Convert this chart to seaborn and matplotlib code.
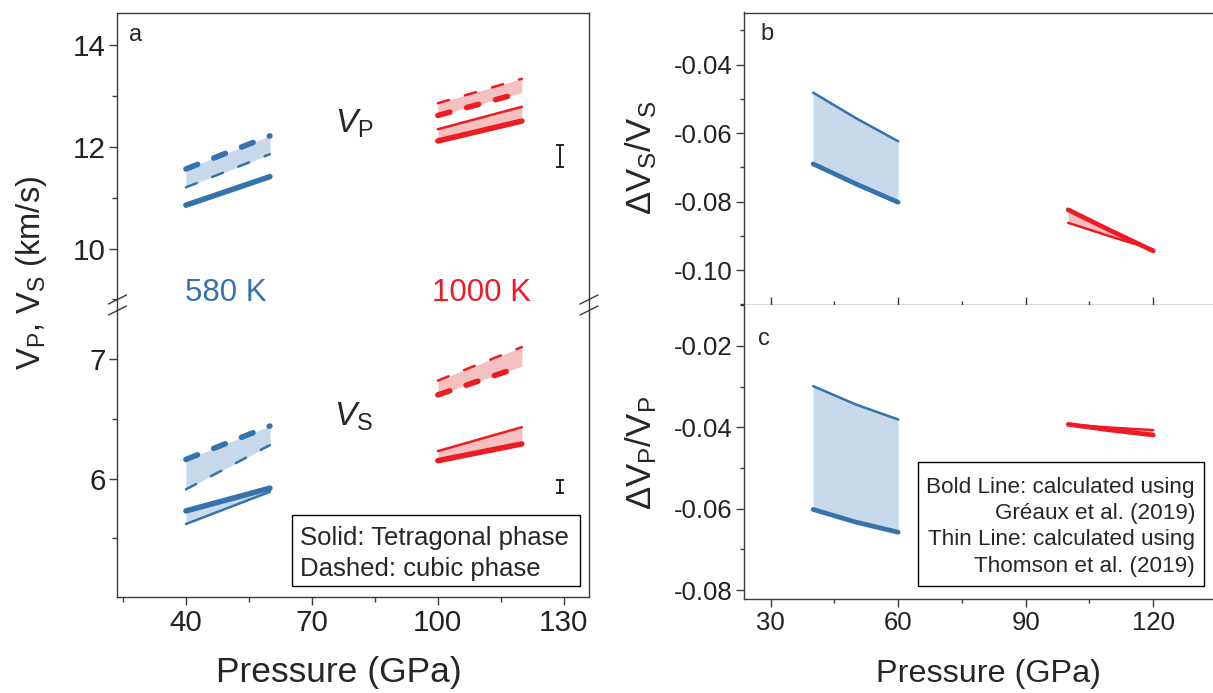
import numpy as np
import pandas as pd
import matplotlib
matplotlib.use("Agg")
import matplotlib.pyplot as plt
import seaborn as sns
from matplotlib.lines import Line2D
from matplotlib.patches import Rectangle
from matplotlib.ticker import FixedLocator, FormatStrFormatter

# ---------------- data ----------------
P_580 = [40, 60]
P_1000 = [100, 120]
VP_580_cub_G = [11.56, 12.21]
VP_580_cub_T = [11.20, 11.85]
VP_580_tet_G = [10.85, 11.41]
VP_1000_cub_G = [12.61, 13.06]
VP_1000_cub_T = [12.85, 13.33]
VP_1000_tet_G = [12.11, 12.50]
VP_1000_tet_T = [12.34, 12.78]

VS_580_cub_G = [6.16, 6.44]
VS_580_cub_T = [5.91, 6.28]
VS_580_tet_G = [5.73, 5.92]
VS_580_tet_T = [5.62, 5.89]
VS_1000_cub_G = [6.70, 6.94]
VS_1000_cub_T = [6.82, 7.10]
VS_1000_tet_G = [6.15, 6.29]
VS_1000_tet_T = [6.23, 6.43]

ERR_P = [129]
VP_ERR_MID = [11.81]
VP_ERR = [0.22]
VS_ERR_MID = [5.935]
VS_ERR = [0.055]

P_580_c = [40, 50, 60]
P_1000_c = [100, 110, 120]
DVS_580_G = [-0.0690, -0.0748, -0.0802]
DVS_580_T = [-0.0482, -0.0556, -0.0624]
DVS_1000_G = [-0.0824, -0.0885, -0.0944]
DVS_1000_T = [-0.0862, -0.0902, -0.0940]
DVP_580_G = [-0.0602, -0.0633, -0.0658]
DVP_580_T = [-0.0299, -0.0344, -0.0381]
DVP_1000_G = [-0.0393, -0.0407, -0.0419]
DVP_1000_T = [-0.0393, -0.0401, -0.0407]

# ---------------- style ----------------
sns.set_theme(style="ticks")
plt.rcParams.update({
    "font.family": ["Liberation Sans", "DejaVu Sans"],
    "mathtext.fontset": "custom",
    "mathtext.rm": "Liberation Sans",
    "mathtext.it": "Liberation Sans:italic",
    "mathtext.bf": "Liberation Sans:bold",
    "axes.unicode_minus": False,
    "lines.scale_dashes": False,
    "axes.edgecolor": "#3a3a3a",
    "axes.linewidth": 1.0,
    "xtick.color": "#3a3a3a",
    "ytick.color": "#3a3a3a",
    "xtick.labelcolor": "#222222",
    "ytick.labelcolor": "#222222",
})

BLUE = "#3673AC"
RED = "#ED1C24"
BLUE_FILL = "#C8D9EC"
RED_FILL = "#F4C1C0"

W, H = 1213, 693
fig = plt.figure(figsize=(W / 100, H / 100), dpi=100)


def fx(px):
    return px / W


def fy(py):
    return 1 - py / H


def add_ax(x0, y0, x1, y1):
    return fig.add_axes([fx(x0), fy(y1), (x1 - x0) / W, (y1 - y0) / H])


axA1 = add_ax(117.5, 13, 589, 300)
axA2 = add_ax(117.5, 310, 589, 597)
axB = add_ax(744.3, 12.5, 1214, 304.7)
axC = add_ax(744.3, 304.7, 1214, 599)

THICK, THIN = 4.0, 1.8
DASH_THICK = (0, (9, 12.5))
DASH_THIN = (0, (8.3, 12))


def draw(ax, x, y, color, lw, ls="-"):
    sns.lineplot(x=x, y=y, ax=ax, color=color, linewidth=lw, linestyle=ls,
                 solid_capstyle="round", dash_capstyle="round",
                 estimator=None, sort=False, legend=False)


# ---------------- panel a, VP (top) ----------------
ax = axA1
ax.fill_between(P_580, VP_580_cub_T, VP_580_cub_G, color=BLUE_FILL, lw=0)
ax.fill_between(P_1000, VP_1000_cub_G, VP_1000_cub_T, color=RED_FILL, lw=0)
ax.fill_between(P_1000, VP_1000_tet_G, VP_1000_tet_T, color=RED_FILL, lw=0)
draw(ax, P_580, VP_580_cub_G, BLUE, THICK, DASH_THICK)
draw(ax, P_580, VP_580_cub_T, BLUE, THIN, DASH_THIN)
draw(ax, P_580, VP_580_tet_G, BLUE, THICK)
draw(ax, P_1000, VP_1000_cub_T, RED, THIN, DASH_THIN)
draw(ax, P_1000, VP_1000_cub_G, RED, THICK, DASH_THICK)
draw(ax, P_1000, VP_1000_tet_T, RED, THIN)
draw(ax, P_1000, VP_1000_tet_G, RED, THICK)
ax.errorbar(ERR_P, VP_ERR_MID, yerr=VP_ERR, color="black", elinewidth=1.2,
            capsize=2.6, capthick=1.2, fmt="none")
ax.set_xlim(23.7, 136.0)
ax.set_ylim(8.99, 14.62)
ax.yaxis.set_major_locator(FixedLocator([10, 12, 14]))
ax.yaxis.set_minor_locator(FixedLocator([9, 11, 13]))
ax.spines["bottom"].set_visible(False)
ax.tick_params(axis="x", which="both", bottom=False, labelbottom=False)
ax.text(80.0, 12.44, r"$V_\mathrm{P}$", fontsize=24, ha="center", va="center")
ax.text(49.6, 9.12, "580 K", fontsize=22.5, color=BLUE, ha="center", va="center")
ax.text(110.5, 9.12, "1000 K", fontsize=22.5, color=RED, ha="center", va="center")
ax.text(0.025, 0.925, "a", transform=ax.transAxes, fontsize=17, ha="left", va="center")

# ---------------- panel a, VS (bottom) ----------------
ax = axA2
ax.fill_between(P_580, VS_580_cub_T, VS_580_cub_G, color=BLUE_FILL, lw=0)
ax.fill_between(P_580, VS_580_tet_T, VS_580_tet_G, color=BLUE_FILL, lw=0)
ax.fill_between(P_1000, VS_1000_cub_G, VS_1000_cub_T, color=RED_FILL, lw=0)
ax.fill_between(P_1000, VS_1000_tet_G, VS_1000_tet_T, color=RED_FILL, lw=0)
draw(ax, P_580, VS_580_cub_G, BLUE, THICK, DASH_THICK)
draw(ax, P_580, VS_580_cub_T, BLUE, THIN, DASH_THIN)
draw(ax, P_580, VS_580_tet_T, BLUE, THIN)
draw(ax, P_580, VS_580_tet_G, BLUE, THICK)
draw(ax, P_1000, VS_1000_cub_T, RED, THIN, DASH_THIN)
draw(ax, P_1000, VS_1000_cub_G, RED, THICK, DASH_THICK)
draw(ax, P_1000, VS_1000_tet_T, RED, THIN)
draw(ax, P_1000, VS_1000_tet_G, RED, THICK)
ax.errorbar(ERR_P, VS_ERR_MID, yerr=VS_ERR, color="black", elinewidth=1.2,
            capsize=2.6, capthick=1.2, fmt="none")
ax.set_xlim(23.7, 136.0)
ax.set_ylim(5.01, 7.41)
ax.yaxis.set_major_locator(FixedLocator([6, 7]))
ax.yaxis.set_minor_locator(FixedLocator([5.5, 6.5]))
ax.xaxis.set_major_locator(FixedLocator([40, 70, 100, 130]))
ax.xaxis.set_minor_locator(FixedLocator([25, 55, 85, 115]))
ax.spines["top"].set_visible(False)
ax.text(80.0, 6.52, r"$V_\mathrm{S}$", fontsize=24, ha="center", va="center")

for a in (axA1, axA2):
    a.tick_params(which="major", direction="out", length=5.5, width=1.0,
                  labelsize=21.3, pad=3)
    a.tick_params(which="minor", direction="out", length=3.5, width=1.0)
    a.tick_params(axis="y", right=False, which="both")

# legend box panel a
fig.add_artist(Rectangle((fx(292), fy(586)), (580 - 292) / W, (586 - 515) / H,
                         transform=fig.transFigure, fill=False, ec="black", lw=1.0))
fig.text(fx(300), fy(545), "Solid: Tetragonal phase", fontsize=18.5, ha="left", va="baseline")
fig.text(fx(300), fy(576), "Dashed: cubic phase", fontsize=18.5, ha="left", va="baseline")

# break marks
for xs in (117.5, 589):
    for yc in (299.5, 310.5):
        fig.add_artist(Line2D([fx(xs - 9), fx(xs + 9)], [fy(yc + 4.5), fy(yc - 4.5)],
                              transform=fig.transFigure, color="#3a3a3a", lw=1.0))
    fig.add_artist(Line2D([fx(xs), fx(xs)], [fy(300), fy(310)],
                          transform=fig.transFigure, color="#3a3a3a", lw=1.0))

# ---------------- panel b ----------------
ax = axB
ax.fill_between(P_580_c, DVS_580_G, DVS_580_T, color=BLUE_FILL, lw=0)
ax.fill_between(P_1000_c, DVS_1000_T, DVS_1000_G, color=RED_FILL, lw=0)
draw(ax, P_580_c, DVS_580_T, BLUE, 1.8)
draw(ax, P_580_c, DVS_580_G, BLUE, 3.4)
draw(ax, P_1000_c, DVS_1000_T, RED, 1.8)
draw(ax, P_1000_c, DVS_1000_G, RED, 3.4)
ax.set_xlim(23.8, 134.3)
ax.set_ylim(-0.1101, -0.0248)
ax.yaxis.set_major_locator(FixedLocator([-0.10, -0.08, -0.06, -0.04]))
ax.yaxis.set_minor_locator(FixedLocator([-0.11, -0.09, -0.07, -0.05, -0.03]))
ax.yaxis.set_major_formatter(FormatStrFormatter("%.2f"))
ax.xaxis.set_major_locator(FixedLocator([30, 60, 90, 120]))
ax.xaxis.set_minor_locator(FixedLocator([45, 75, 105]))
ax.spines["right"].set_visible(False)
ax.tick_params(axis="x", which="major", direction="in", length=5.5, width=1.0, labelbottom=False)
ax.tick_params(axis="x", which="minor", direction="in", length=3.0, width=1.0)
ax.text(0.035, 0.925, "b", transform=ax.transAxes, fontsize=17, ha="left", va="center")

# ---------------- panel c ----------------
ax = axC
ax.fill_between(P_580_c, DVP_580_G, DVP_580_T, color=BLUE_FILL, lw=0)
ax.fill_between(P_1000_c, DVP_1000_G, DVP_1000_T, color=RED_FILL, lw=0)
draw(ax, P_580_c, DVP_580_T, BLUE, 1.8)
draw(ax, P_580_c, DVP_580_G, BLUE, 3.4)
draw(ax, P_1000_c, DVP_1000_T, RED, 1.8)
draw(ax, P_1000_c, DVP_1000_G, RED, 3.4)
ax.set_xlim(23.8, 134.3)
ax.set_ylim(-0.0822, -0.0099)
ax.yaxis.set_major_locator(FixedLocator([-0.08, -0.06, -0.04, -0.02]))
ax.yaxis.set_minor_locator(FixedLocator([-0.07, -0.05, -0.03, -0.01]))
ax.yaxis.set_major_formatter(FormatStrFormatter("%.2f"))
ax.xaxis.set_major_locator(FixedLocator([30, 60, 90, 120]))
ax.xaxis.set_minor_locator(FixedLocator([45, 75, 105]))
ax.spines["right"].set_visible(False)
ax.spines["top"].set_visible(False)
ax.tick_params(axis="x", which="major", direction="out", length=5.5, width=1.0, labelsize=18.5, pad=3)
ax.tick_params(axis="x", which="minor", direction="out", length=3.0, width=1.0)
ax.text(0.03, 0.885, "c", transform=ax.transAxes, fontsize=17, ha="left", va="center")

for a in (axB, axC):
    a.tick_params(axis="y", which="major", direction="out", length=5.5, width=1.0,
                  labelsize=18.5, pad=3)
    a.tick_params(axis="y", which="minor", direction="out", length=3.0, width=1.0)

# legend box panel c
fig.add_artist(Rectangle((fx(918), fy(586)), (1204 - 918) / W, (586 - 462) / H,
                         transform=fig.transFigure, fill=False, ec="black", lw=1.0))
for txt, yb in [("Bold Line: calculated using", 492.5),
                ("Gréaux et al. (2019)", 519.5),
                ("Thin Line: calculated using", 545.5),
                ("Thomson et al. (2019)", 572)]:
    fig.text(fx(1195), fy(yb), txt, fontsize=16.2, ha="right", va="baseline")

# ---------------- axis labels ----------------
fig.text(fx(32), fy(273), r"V$_\mathrm{P}$, V$_\mathrm{S}$ (km/s)", fontsize=23.5,
         rotation=90, ha="center", va="center")
fig.text(fx(641), fy(158), r"$\Delta$V$_\mathrm{S}$/V$_\mathrm{S}$", fontsize=25,
         rotation=90, ha="center", va="center")
fig.text(fx(641), fy(453), r"$\Delta$V$_\mathrm{P}$/V$_\mathrm{P}$", fontsize=25,
         rotation=90, ha="center", va="center")
fig.text(fx(339), fy(682), "Pressure (GPa)", fontsize=25.5, ha="center", va="baseline")
fig.text(fx(988), fy(682), "Pressure (GPa)", fontsize=23.3, ha="center", va="baseline")

fig.savefig("out.png", dpi=100)
